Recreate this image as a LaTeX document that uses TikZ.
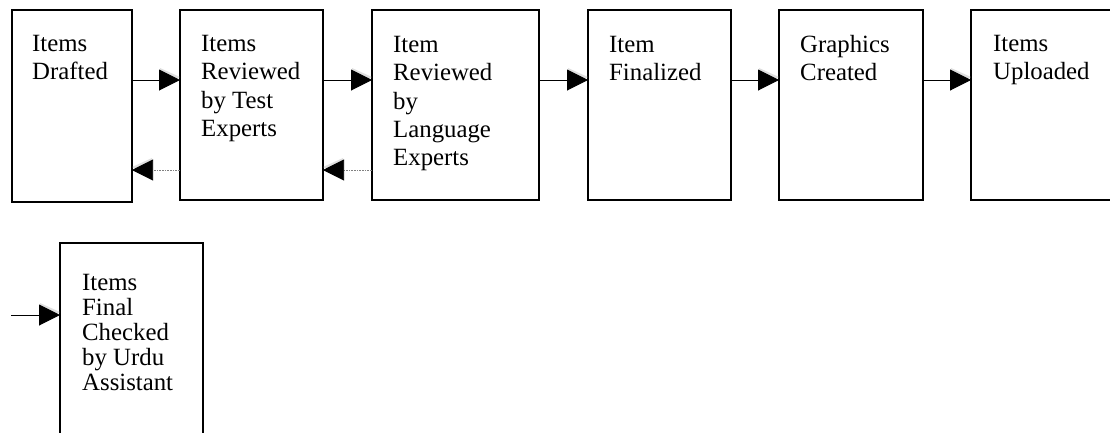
\documentclass[tikz,border=0pt]{standalone}
\usepackage{fontspec}
\setmainfont{Liberation Serif}
\usetikzlibrary{arrows.meta}
\tikzset{
  stagebox/.style={draw=black, line width=1.3pt, fill=white},
  stagetext/.style={anchor=north west, align=left, inner sep=0pt, font=\fontsize{24.8}{28.3}\selectfont},
  lasttext/.style={anchor=north west, align=left, inner sep=0pt, font=\fontsize{24.8}{25}\selectfont},
  fwd/.style={line width=1pt, -{Triangle[length=21pt,width=21pt]}},
  back/.style={line width=0.6pt, draw=gray, densely dotted, -{Triangle[length=21pt,width=21pt,color=black,fill=black]}},
}
\begin{document}
\begin{tikzpicture}[x=1pt,y=-1pt]
\useasboundingbox (0,0) rectangle (1110,432);
\clip (0,0) rectangle (1110,432);
% boxes
\draw[stagebox] (12,10) rectangle (132,202);
\coordinate (b1) at (12,10);
\draw[stagebox] (180,10) rectangle (323,200);
\coordinate (b2) at (180,10);
\draw[stagebox] (372,10) rectangle (539,200);
\coordinate (b3) at (372,10);
\draw[stagebox] (588,10) rectangle (731,200);
\coordinate (b4) at (588,10);
\draw[stagebox] (779,10) rectangle (923,200);
\coordinate (b5) at (779,10);
\draw[stagebox] (971,10) rectangle (1130,200);
\coordinate (b6) at (971,10);
\draw[stagebox] (60,243) rectangle (203,460);
\coordinate (b7) at (60,243);
% texts
\node[stagetext] (t1) at (32,35) {Items\\Drafted};
\node[stagetext] (t2) at (201,35) {Items\\Reviewed\\by Test\\Experts};
\node[stagetext] (t3) at (393,36) {Item\\Reviewed\\by\\Language\\Experts};
\node[stagetext] (t4) at (609,36) {Item\\Finalized};
\node[stagetext] (t5) at (800,35) {Graphics\\Created};
\node[stagetext] (t6) at (993,35) {Items\\Uploaded};
\node[lasttext] (t7) at (82,274) {Items\\Final\\Checked\\by Urdu\\Assistant};
% connector anchors
\coordinate (r1) at (132,80); \coordinate (l2) at (180,80);
\coordinate (r2) at (323,80); \coordinate (l3) at (372,80);
\coordinate (r3) at (539,80); \coordinate (l4) at (588,80);
\coordinate (r4) at (731,80); \coordinate (l5) at (779,80);
\coordinate (r5) at (923,80); \coordinate (l6) at (971,80);
\coordinate (br1) at (132,170); \coordinate (bl2) at (180,170);
\coordinate (br2) at (323,170); \coordinate (bl3) at (372,170);
\coordinate (in7) at (11,315); \coordinate (l7) at (60,315);
% shadows
\foreach \a/\b in {r1/l2,r2/l3,r3/l4,r4/l5,r5/l6,in7/l7}{
  \fill[black!25, opacity=0.5] ([xshift=-20pt,yshift=-8pt]\b) -- ([xshift=0pt,yshift=3pt]\b) -- ([xshift=-20pt,yshift=12pt]\b) -- cycle;
}
\foreach \a/\b in {bl2/br1,bl3/br2}{
  \fill[black!25, opacity=0.5] ([xshift=20pt,yshift=-7pt]\b) -- ([xshift=0pt,yshift=3pt]\b) -- ([xshift=20pt,yshift=12pt]\b) -- cycle;
}
% arrows
\draw[fwd] (r1) -- (l2);
\draw[fwd] (r2) -- (l3);
\draw[fwd] (r3) -- (l4);
\draw[fwd] (r4) -- (l5);
\draw[fwd] (r5) -- (l6);
\draw[fwd] (in7) -- (l7);
\draw[back] (bl2) -- (br1);
\draw[back] (bl3) -- (br2);
\end{tikzpicture}
\end{document}
